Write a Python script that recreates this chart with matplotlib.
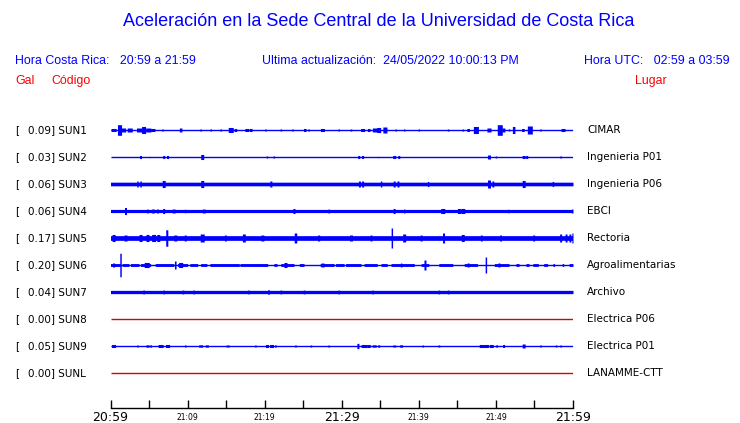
import numpy as np
import matplotlib
matplotlib.use("Agg")
import matplotlib.pyplot as plt

# ---------------- data ----------------
codes = ["SUN1", "SUN2", "SUN3", "SUN4", "SUN5", "SUN6", "SUN7", "SUN8", "SUN9", "SUNL"]
peaks = [0.09, 0.03, 0.06, 0.06, 0.17, 0.20, 0.04, 0.00, 0.05, 0.00]
places = ["CIMAR", "Ingenieria P01", "Ingenieria P06", "EBCI", "Rectoria",
          "Agroalimentarias", "Archivo", "Electrica P06", "Electrica P01", "LANAMME-CTT"]
# background half-amplitude (gal) of each trace
bases = [0.002, 0.001, 0.031, 0.027, 0.040, 0.003, 0.028, 0.0, 0.002, 0.0]

# events: (minutes after 20:59, half-amplitude gal, duration min)
sun1_events = [(0.4, 0.026, 0.5), (1.17, 0.09, 0.4), (1.7, 0.034, 0.4), (2.5, 0.034, 0.5),
               (3.9, 0.034, 0.8), (4.3, 0.06, 0.4), (4.9, 0.034, 0.5), (5.5, 0.026, 0.4),
               (6.75, 0.017, 0.15), (9.1, 0.034, 0.25), (11.7, 0.017, 0.15), (13.0, 0.017, 0.15),
               (14.3, 0.017, 0.15), (15.6, 0.043, 0.5), (16.2, 0.026, 0.25), (17.7, 0.026, 0.4),
               (18.2, 0.026, 0.25), (20.1, 0.017, 0.15), (22.1, 0.017, 0.15), (23.6, 0.017, 0.15),
               (25.2, 0.026, 0.25), (25.7, 0.017, 0.15), (27.5, 0.026, 0.4), (29.6, 0.017, 0.15),
               (31.2, 0.017, 0.15), (32.7, 0.026, 0.4), (33.5, 0.026, 0.25), (34.3, 0.034, 0.5),
               (34.8, 0.043, 0.4), (35.6, 0.051, 0.4), (37.0, 0.017, 0.15), (38.1, 0.017, 0.15),
               (40.0, 0.017, 0.15), (43.8, 0.017, 0.15), (45.7, 0.017, 0.15), (46.4, 0.026, 0.25),
               (47.4, 0.06, 0.5), (49.1, 0.034, 0.4), (50.5, 0.09, 0.5), (51.0, 0.034, 0.25),
               (51.7, 0.017, 0.15), (52.3, 0.06, 0.25), (53.5, 0.026, 0.25), (54.4, 0.068, 0.5),
               (55.8, 0.017, 0.15), (58.7, 0.026, 0.4)]
sun2_events = [(3.9, 0.026, 0.2), (5.1, 0.01, 0.15), (6.9, 0.026, 0.2), (7.4, 0.026, 0.2),
               (11.9, 0.043, 0.3), (20.3, 0.017, 0.15), (21.2, 0.017, 0.15), (32.2, 0.026, 0.2),
               (32.7, 0.026, 0.2), (34.7, 0.01, 0.15), (36.8, 0.026, 0.3), (37.4, 0.026, 0.2),
               (49.1, 0.034, 0.3), (50.0, 0.017, 0.15), (53.6, 0.026, 0.3), (54.0, 0.026, 0.2),
               (58.4, 0.017, 0.15)]
sun3_events = [(3.5, 0.051, 0.15), (3.9, 0.051, 0.15), (6.9, 0.06, 0.3), (11.9, 0.06, 0.3),
               (20.8, 0.051, 0.2), (32.3, 0.051, 0.2), (32.7, 0.051, 0.2), (35.1, 0.051, 0.15),
               (36.8, 0.051, 0.2), (37.3, 0.051, 0.2), (41.2, 0.043, 0.15), (49.1, 0.068, 0.3),
               (49.6, 0.051, 0.2), (53.6, 0.06, 0.3), (57.4, 0.043, 0.15)]
sun4_events = [(1.95, 0.06, 0.2), (4.8, 0.034, 0.15), (5.5, 0.034, 0.3), (6.1, 0.034, 0.2),
               (6.9, 0.043, 0.2), (8.2, 0.034, 0.3), (9.7, 0.03, 0.15), (12.1, 0.034, 0.3),
               (23.8, 0.043, 0.2), (28.3, 0.034, 0.15), (36.8, 0.043, 0.2), (38.1, 0.034, 0.15),
               (43.1, 0.043, 0.4), (45.2, 0.043, 0.3), (45.7, 0.043, 0.4), (51.6, 0.03, 0.15),
               (59.9, 0.034, 0.15)]
sun5_events = [(0.4, 0.06, 0.3), (1.95, 0.051, 0.3), (3.9, 0.06, 0.3), (4.8, 0.06, 0.3),
               (5.6, 0.06, 0.4), (6.2, 0.06, 0.3), (7.3, 0.14, 0.2), (8.4, 0.051, 0.3),
               (9.7, 0.051, 0.2), (11.9, 0.068, 0.4), (14.9, 0.051, 0.2), (17.3, 0.068, 0.3),
               (19.7, 0.051, 0.3), (24.0, 0.085, 0.25), (27.0, 0.051, 0.2), (31.2, 0.051, 0.3),
               (33.8, 0.051, 0.2), (36.5, 0.17, 0.15), (38.1, 0.068, 0.3), (40.3, 0.051, 0.2),
               (43.2, 0.085, 0.2), (45.7, 0.06, 0.3), (48.1, 0.051, 0.2), (50.6, 0.051, 0.2),
               (54.9, 0.051, 0.2), (58.4, 0.068, 0.2), (59.1, 0.068, 0.2), (59.6, 0.068, 0.2),
               (59.95, 0.085, 0.1)]
sun6_events = [(0.4, 0.034, 0.2), (1.3, 0.20, 0.15), (4.7, 0.043, 0.5), (8.4, 0.068, 0.1),
               (9.1, 0.043, 0.4), (22.7, 0.043, 0.3), (27.5, 0.034, 0.3), (37.7, 0.034, 0.15),
               (40.8, 0.085, 0.2), (46.4, 0.034, 0.2), (48.7, 0.136, 0.15), (50.4, 0.034, 0.2)]
sun7_events = [(4.3, 0.034, 0.15), (6.9, 0.034, 0.15), (9.4, 0.034, 0.15), (10.8, 0.034, 0.15),
               (17.9, 0.034, 0.15), (20.5, 0.04, 0.15), (22.1, 0.034, 0.15), (25.1, 0.034, 0.15),
               (29.6, 0.034, 0.15), (34.0, 0.034, 0.15), (42.6, 0.034, 0.15), (43.8, 0.034, 0.15)]
sun8_events = []
sun9_events = [(0.4, 0.026, 0.4), (3.5, 0.017, 0.15), (4.8, 0.02, 0.3), (5.2, 0.02, 0.15),
               (6.5, 0.026, 0.5), (7.4, 0.026, 0.4), (9.7, 0.017, 0.15), (11.7, 0.02, 0.4),
               (12.5, 0.02, 0.3), (15.1, 0.017, 0.15), (15.3, 0.017, 0.15), (18.8, 0.017, 0.15),
               (20.3, 0.026, 0.3), (20.9, 0.026, 0.4), (21.4, 0.02, 0.15), (24.0, 0.017, 0.15),
               (26.0, 0.017, 0.15), (28.3, 0.017, 0.15), (32.1, 0.045, 0.2), (32.9, 0.026, 0.6),
               (33.5, 0.026, 0.3), (34.2, 0.02, 0.4), (34.8, 0.02, 0.2), (36.8, 0.017, 0.3),
               (37.7, 0.02, 0.3), (40.5, 0.017, 0.15), (42.6, 0.017, 0.2), (48.1, 0.026, 0.4),
               (48.7, 0.026, 0.5), (49.4, 0.026, 0.4), (50.1, 0.02, 0.2), (51.0, 0.026, 0.2),
               (53.6, 0.034, 0.3), (55.8, 0.017, 0.15), (57.8, 0.017, 0.15), (58.4, 0.017, 0.15)]
sunl_events = []
all_events = [sun1_events, sun2_events, sun3_events, sun4_events, sun5_events,
              sun6_events, sun7_events, sun8_events, sun9_events, sunl_events]

# SUN6 noise band only present in these intervals (start min, end min)
sun6_band = [(0.0, 1.3), (1.5, 2.4), (2.6, 3.7), (3.9, 5.2), (5.8, 8.2), (8.7, 10.0),
             (10.3, 11.3), (11.7, 12.5), (12.9, 16.7), (16.8, 20.4), (21.2, 21.6), (22.1, 23.8),
             (24.5, 25.1), (27.2, 29.0), (29.2, 30.3), (30.5, 32.5), (32.9, 34.6), (35.1, 35.9),
             (36.4, 39.4), (40.3, 41.3), (42.6, 44.4), (45.9, 47.6), (49.8, 51.7), (52.6, 53.0),
             (53.9, 54.3), (54.8, 55.5), (56.2, 56.7), (57.4, 57.6), (58.6, 58.8), (59.5, 60.0)]
sun6_band_amp = 0.024
all_bands = [[], [], [], [], [], sun6_band, [], [], [], []]
band_amps = [0, 0, 0, 0, 0, sun6_band_amp, 0, 0, 0, 0]

tick_minutes = list(range(0, 61, 5))
tick_labels = ["20:59", "", "21:09", "", "21:19", "", "21:29", "", "21:39", "", "21:49", "", "21:59"]
big_labels = ["20:59", "21:29", "21:59"]

title = "Aceleración en la Sede Central de la Universidad de Costa Rica"
hora_cr = "Hora Costa Rica:   20:59 a 21:59"
ultima = "Ultima actualización:  24/05/2022 10:00:13 PM"
hora_utc = "Hora UTC:   02:59 a 03:59"

# ---------------- layout ----------------
W, H = 740, 423
fig = plt.figure(figsize=(W / 100, H / 100), dpi=100)
fig.patch.set_facecolor("white")

def fx(px):
    return px / W

def fy(py):
    return 1 - py / H

BLUE = "#0000ff"
RED = "#ff0000"
DARKRED = "#dd0000"
SANS = ["Liberation Sans", "DejaVu Sans"]

ax_left, ax_right = 110.5, 573
ax_top, ax_bottom = 116, 408
ax = fig.add_axes([fx(ax_left), fy(ax_bottom), fx(ax_right - ax_left), (ax_bottom - ax_top) / H])

GAL_PER_PX = 0.017
row_px = [130 + 27 * i for i in range(len(codes))]
ax.set_xlim(0, 60)
ax.set_ylim(-(ax_bottom - 130) * GAL_PER_PX, (130 - ax_top) * GAL_PER_PX)

t = np.linspace(0, 60, 6001)
for i, (code, pk, base, evs, bands, bamp) in enumerate(
        zip(codes, peaks, bases, all_events, all_bands, band_amps)):
    y0 = -(row_px[i] - 130) * GAL_PER_PX
    if pk == 0:
        ax.plot([0, 60], [y0, y0], color=DARKRED, lw=1.0, solid_capstyle="butt")
        continue
    env = np.full_like(t, base)
    for s0, s1 in bands:
        mask = (t >= s0) & (t <= s1)
        env[mask] = np.maximum(env[mask], bamp)
    for m, a, d in evs:
        d = max(d * 1.3, 0.2)
        mask = np.abs(t - m) <= d / 2
        env[mask] = np.maximum(env[mask], a)
    ax.fill_between(t, y0 - env, y0 + env, color=BLUE, lw=0, step="mid")
    ax.plot([0, 60], [y0, y0], color=BLUE, lw=1.0, solid_capstyle="butt")

for s in ["top", "left", "right"]:
    ax.spines[s].set_visible(False)
ax.spines["bottom"].set_linewidth(1.0)
ax.set_yticks([])
ax.set_xticks(tick_minutes)
ax.set_xticklabels(tick_labels)
ax.tick_params(axis="x", direction="in", length=6, width=1, pad=2, colors="black")
for lab in ax.get_xticklabels():
    if lab.get_text() in big_labels:
        lab.set_fontsize(9)
    else:
        lab.set_fontsize(5.5)
        lab.set_y(-0.006)
    lab.set_family("DejaVu Sans")

# ---------------- texts ----------------
HDR = 8.9
fig.text(fx(379), fy(22), title, color=BLUE, fontsize=13, family=SANS, ha="center", va="center")
fig.text(fx(15), fy(61), hora_cr, color=BLUE, fontsize=HDR, family=SANS, ha="left", va="center")
fig.text(fx(262), fy(61), ultima, color=BLUE, fontsize=HDR, family=SANS, ha="left", va="center")
fig.text(fx(584), fy(61), hora_utc, color=BLUE, fontsize=HDR, family=SANS, ha="left", va="center")
fig.text(fx(15), fy(81), "Gal", color=RED, fontsize=HDR, family=SANS, ha="left", va="center")
fig.text(fx(51), fy(81), "Código", color=RED, fontsize=HDR, family=SANS, ha="left", va="center")
fig.text(fx(635), fy(81), "Lugar", color=RED, fontsize=HDR, family=SANS, ha="left", va="center")

for i, (code, pk, place) in enumerate(zip(codes, peaks, places)):
    yy = fy(row_px[i])
    fig.text(fx(15), yy, "[", fontsize=7.5, family="DejaVu Sans", ha="left", va="center")
    fig.text(fx(27.7), yy, f"{pk:.2f}] {code}", fontsize=7.5, family="DejaVu Sans",
             ha="left", va="center")
    fig.text(fx(587), yy, place, fontsize=7.5, family="DejaVu Sans", ha="left", va="center")

fig.savefig("out.png", dpi=100)
